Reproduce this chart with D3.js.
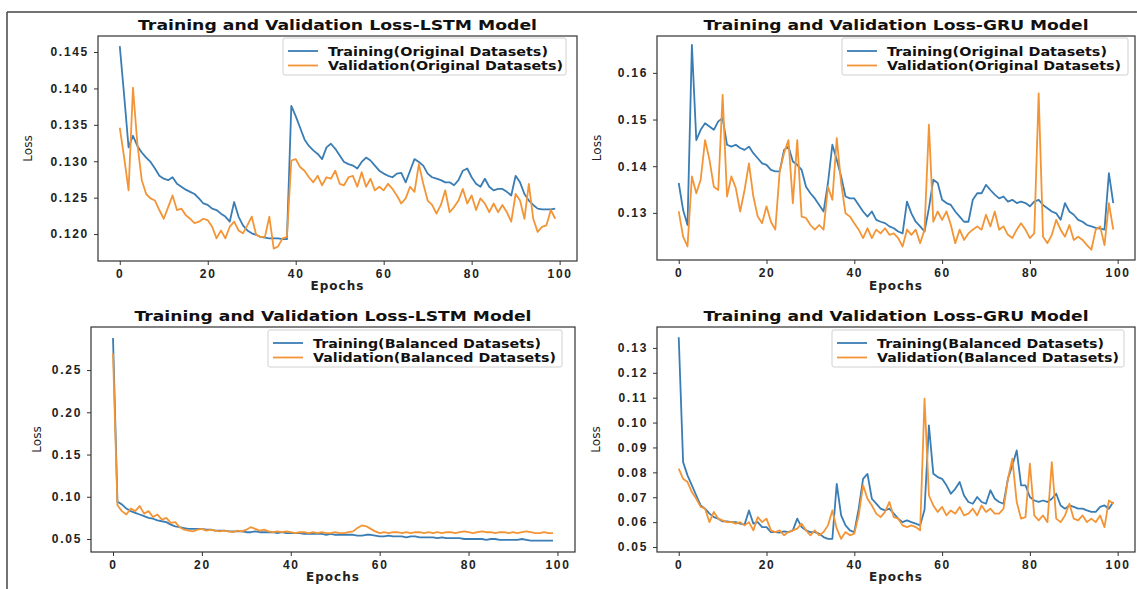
<!DOCTYPE html>
<html>
<head>
<meta charset="utf-8">
<script src="https://cdn.jsdelivr.net/npm/d3@7"></script>
<style>
  html, body { margin: 0; padding: 0; background: #fff; }
  svg { display: block; font-family: "DejaVu Sans", sans-serif; }
  .tick text { font-size: 12px; font-weight: bold; fill: #222; letter-spacing: 1.7px; }
  .tick line { stroke: #333; stroke-width: 1; }
</style>
</head>
<body>
<svg id="chart" width="1137" height="589"></svg>
<script>
// Epoch index shared by every panel
const epochs = d3.range(100);
const epochTicks = [0, 20, 40, 60, 80, 100];

// LSTM, original datasets
const lstmTrainOrig = [0.1458,0.1390,0.1319,0.1335,0.1321,0.1312,0.1305,0.1299,0.1290,0.1280,
  0.1276,0.1274,0.1278,0.1269,0.1265,0.1261,0.1258,0.1255,0.1249,0.1242,
  0.1240,0.1235,0.1233,0.1228,0.1224,0.1217,0.1244,0.1224,0.1212,0.1205,
  0.1201,0.1199,0.1196,0.1195,0.1194,0.1194,0.1194,0.1193,0.1193,0.1376,
  0.1362,0.1346,0.1330,0.1321,0.1315,0.1310,0.1303,0.1319,0.1324,0.1317,
  0.1308,0.1299,0.1296,0.1294,0.1290,0.1299,0.1305,0.1301,0.1294,0.1287,
  0.1283,0.1280,0.1278,0.1283,0.1284,0.1271,0.1287,0.1303,0.1299,0.1294,
  0.1283,0.1278,0.1276,0.1274,0.1271,0.1271,0.1267,0.1274,0.1287,0.1290,
  0.1278,0.1269,0.1265,0.1276,0.1265,0.1260,0.1262,0.1262,0.1258,0.1253,
  0.1280,0.1271,0.1255,0.1246,0.1240,0.1235,0.1234,0.1234,0.1234,0.1235];
const lstmValOrig = [0.1346,0.1305,0.1260,0.1401,0.1324,0.1274,0.1255,0.1249,0.1246,0.1233,
  0.1221,0.1237,0.1253,0.1233,0.1235,0.1226,0.1221,0.1215,0.1217,0.1221,
  0.1219,0.1210,0.1194,0.1205,0.1194,0.1210,0.1217,0.1205,0.1201,0.1212,
  0.1224,0.1199,0.1196,0.1196,0.1224,0.1180,0.1183,0.1194,0.1196,0.1301,
  0.1303,0.1292,0.1287,0.1278,0.1271,0.1280,0.1267,0.1278,0.1276,0.1287,
  0.1269,0.1267,0.1278,0.1280,0.1265,0.1285,0.1265,0.1276,0.1260,0.1265,
  0.1260,0.1269,0.1262,0.1253,0.1242,0.1249,0.1265,0.1258,0.1296,0.1269,
  0.1246,0.1240,0.1228,0.1240,0.1260,0.1230,0.1237,0.1246,0.1262,0.1242,
  0.1253,0.1233,0.1249,0.1242,0.1230,0.1242,0.1230,0.1240,0.1230,0.1217,
  0.1255,0.1246,0.1221,0.1269,0.1221,0.1203,0.1210,0.1212,0.1233,0.1221];

// GRU, original datasets
const gruTrainOrig = [0.1364,0.1306,0.1274,0.1660,0.1456,0.1478,0.1492,0.1485,0.1478,0.1496,
  0.1503,0.1446,0.1442,0.1446,0.1439,0.1435,0.1442,0.1428,0.1417,0.1406,
  0.1403,0.1392,0.1389,0.1389,0.1435,0.1442,0.1410,0.1403,0.1392,0.1356,
  0.1342,0.1331,0.1317,0.1303,0.1364,0.1446,0.1414,0.1378,0.1335,0.1331,
  0.1331,0.1317,0.1303,0.1292,0.1303,0.1285,0.1281,0.1278,0.1271,0.1267,
  0.1260,0.1256,0.1324,0.1299,0.1281,0.1271,0.1260,0.1310,0.1371,0.1364,
  0.1328,0.1321,0.1317,0.1303,0.1292,0.1281,0.1281,0.1328,0.1342,0.1342,
  0.1360,0.1349,0.1339,0.1331,0.1335,0.1324,0.1328,0.1321,0.1324,0.1321,
  0.1314,0.1324,0.1328,0.1317,0.1310,0.1303,0.1299,0.1285,0.1321,0.1303,
  0.1296,0.1285,0.1281,0.1274,0.1271,0.1268,0.1266,0.1264,0.1385,0.1321];
const gruValOrig = [0.1303,0.1249,0.1228,0.1378,0.1342,0.1371,0.1456,0.1414,0.1356,0.1349,
  0.1553,0.1335,0.1378,0.1353,0.1303,0.1349,0.1406,0.1335,0.1292,0.1278,
  0.1314,0.1281,0.1264,0.1389,0.1428,0.1456,0.1321,0.1456,0.1292,0.1289,
  0.1274,0.1264,0.1274,0.1264,0.1356,0.1328,0.1460,0.1364,0.1299,0.1292,
  0.1278,0.1264,0.1246,0.1267,0.1246,0.1264,0.1256,0.1267,0.1253,0.1256,
  0.1246,0.1228,0.1264,0.1253,0.1264,0.1235,0.1264,0.1489,0.1281,0.1303,
  0.1285,0.1303,0.1274,0.1235,0.1264,0.1242,0.1256,0.1264,0.1271,0.1264,
  0.1296,0.1271,0.1303,0.1264,0.1271,0.1253,0.1246,0.1264,0.1278,0.1264,
  0.1246,0.1256,0.1556,0.1249,0.1235,0.1253,0.1285,0.1264,0.1249,0.1274,
  0.1242,0.1249,0.1242,0.1231,0.1221,0.1264,0.1271,0.1231,0.1321,0.1264];

// LSTM, balanced datasets
const lstmTrainBal = [0.288,0.094,0.091,0.086,0.083,0.081,0.079,0.077,0.075,0.074,
  0.072,0.071,0.070,0.067,0.065,0.064,0.063,0.062,0.062,0.062,
  0.062,0.061,0.061,0.060,0.060,0.060,0.059,0.059,0.059,0.059,
  0.058,0.058,0.059,0.058,0.058,0.058,0.058,0.057,0.058,0.057,
  0.057,0.057,0.057,0.056,0.056,0.056,0.056,0.056,0.055,0.056,
  0.055,0.055,0.055,0.055,0.055,0.054,0.054,0.055,0.055,0.054,
  0.053,0.053,0.054,0.053,0.053,0.053,0.052,0.053,0.053,0.052,
  0.052,0.052,0.052,0.051,0.052,0.051,0.051,0.051,0.051,0.050,
  0.050,0.050,0.050,0.050,0.049,0.050,0.050,0.049,0.049,0.049,
  0.049,0.049,0.050,0.049,0.048,0.048,0.048,0.048,0.048,0.048];
const lstmValBal = [0.270,0.090,0.083,0.079,0.086,0.083,0.089,0.080,0.083,0.076,
  0.079,0.073,0.075,0.069,0.070,0.064,0.061,0.060,0.059,0.061,
  0.062,0.060,0.061,0.060,0.059,0.060,0.059,0.058,0.060,0.059,
  0.061,0.064,0.062,0.060,0.061,0.059,0.058,0.059,0.058,0.059,
  0.058,0.057,0.058,0.058,0.057,0.058,0.057,0.058,0.057,0.057,
  0.058,0.057,0.057,0.058,0.059,0.063,0.066,0.065,0.062,0.059,
  0.057,0.058,0.057,0.058,0.058,0.057,0.058,0.057,0.058,0.058,
  0.057,0.058,0.057,0.058,0.057,0.058,0.058,0.057,0.058,0.059,
  0.058,0.057,0.058,0.059,0.058,0.058,0.057,0.058,0.058,0.057,
  0.058,0.057,0.058,0.059,0.058,0.057,0.057,0.058,0.057,0.057];

// GRU, balanced datasets
const gruTrainBal = [0.1343,0.0841,0.0788,0.0748,0.0707,0.0667,0.0654,0.0634,0.0620,0.0614,
  0.0603,0.0603,0.0600,0.0600,0.0594,0.0590,0.0647,0.0594,0.0600,0.0580,
  0.0580,0.0560,0.0560,0.0558,0.0563,0.0560,0.0567,0.0614,0.0580,0.0567,
  0.0560,0.0560,0.0554,0.0540,0.0533,0.0533,0.0754,0.0627,0.0587,0.0567,
  0.0560,0.0654,0.0774,0.0794,0.0694,0.0674,0.0654,0.0647,0.0654,0.0634,
  0.0614,0.0600,0.0607,0.0600,0.0594,0.0587,0.0650,0.0989,0.0794,0.0781,
  0.0774,0.0748,0.0714,0.0734,0.0761,0.0707,0.0681,0.0674,0.0701,0.0681,
  0.0674,0.0728,0.0694,0.0681,0.0674,0.0774,0.0828,0.0888,0.0748,0.0748,
  0.0701,0.0687,0.0681,0.0687,0.0681,0.0694,0.0714,0.0667,0.0654,0.0667,
  0.0661,0.0654,0.0654,0.0647,0.0641,0.0641,0.0661,0.0667,0.0654,0.0681];
const gruValBal = [0.0815,0.0774,0.0761,0.0721,0.0694,0.0661,0.0654,0.0600,0.0641,0.0614,
  0.0607,0.0600,0.0600,0.0594,0.0600,0.0587,0.0600,0.0567,0.0620,0.0600,
  0.0614,0.0567,0.0560,0.0567,0.0547,0.0560,0.0567,0.0574,0.0594,0.0567,
  0.0547,0.0567,0.0547,0.0560,0.0587,0.0647,0.0574,0.0533,0.0560,0.0547,
  0.0554,0.0627,0.0748,0.0694,0.0667,0.0634,0.0620,0.0641,0.0681,0.0620,
  0.0614,0.0587,0.0580,0.0587,0.0580,0.0567,0.1096,0.0707,0.0667,0.0641,
  0.0661,0.0627,0.0647,0.0634,0.0661,0.0627,0.0634,0.0654,0.0627,0.0667,
  0.0641,0.0654,0.0634,0.0634,0.0654,0.0774,0.0855,0.0681,0.0614,0.0620,
  0.0835,0.0627,0.0607,0.0627,0.0600,0.0841,0.0614,0.0600,0.0627,0.0674,
  0.0614,0.0607,0.0627,0.0600,0.0614,0.0600,0.0627,0.0580,0.0687,0.0674];

// Tick labels per panel
const ticksLstmOrig = [0.120, 0.125, 0.130, 0.135, 0.140, 0.145];
const ticksGruOrig = [0.13, 0.14, 0.15, 0.16];
const ticksLstmBal = [0.05, 0.10, 0.15, 0.20, 0.25];
const ticksGruBal = [0.05, 0.06, 0.07, 0.08, 0.09, 0.10, 0.11, 0.12, 0.13];

// Titles and legend entries
const titleLstm = "Training and Validation Loss-LSTM Model";
const titleGru = "Training and Validation Loss-GRU Model";
const legendOrig = ["Training(Original Datasets)", "Validation(Original Datasets)"];
const legendBal = ["Training(Balanced Datasets)", "Validation(Balanced Datasets)"];

const colTrain = "#3a7db4";
const colVal = "#f39536";

const svg = d3.select("#chart");

// outer figure border (top and left edges)
svg.append("line").attr("x1", 7).attr("y1", 12).attr("x2", 1137).attr("y2", 12)
  .attr("stroke", "#444").attr("stroke-width", 1.5);
svg.append("line").attr("x1", 7).attr("y1", 12).attr("x2", 7).attr("y2", 589)
  .attr("stroke", "#444").attr("stroke-width", 1.5);

const panels = [
  { left: 98, right: 577, top: 36, bottom: 261, yDomain: [0.1163, 0.1472], yTicks: ticksLstmOrig, fmt: ".3f",
    title: titleLstm, titleLen: 399, train: lstmTrainOrig, val: lstmValOrig, legend: legendOrig,
    leg: { x: 283, y: 38, w: 283, lens: [220, 235] }, lossX: 28, xLabelY: 290 },
  { left: 657, right: 1135, top: 36, bottom: 260, yDomain: [0.1199, 0.1679], yTicks: ticksGruOrig, fmt: ".2f",
    title: titleGru, titleLen: 385, train: gruTrainOrig, val: gruValOrig, legend: legendOrig,
    leg: { x: 842, y: 38, w: 286, lens: [220, 234] }, lossX: 597, xLabelY: 290 },
  { left: 91, right: 575, top: 327, bottom: 552, yDomain: [0.0346, 0.301], yTicks: ticksLstmBal, fmt: ".2f",
    title: titleLstm, titleLen: 397, train: lstmTrainBal, val: lstmValBal, legend: legendBal,
    leg: { x: 268, y: 330, w: 294, lens: [228, 243] }, lossX: 37, xLabelY: 581 },
  { left: 657, right: 1135, top: 327, bottom: 552, yDomain: [0.048, 0.1384], yTicks: ticksGruBal, fmt: ".2f",
    title: titleGru, titleLen: 385, train: gruTrainBal, val: gruValBal, legend: legendBal,
    leg: { x: 832, y: 330, w: 292, lens: [227, 242] }, lossX: 596, xLabelY: 581 }
];

panels.forEach(drawPanel);

function drawPanel(p) {
  const g = svg.append("g");
  const x = d3.scaleLinear().domain([-4.95, 103.95]).range([p.left, p.right]);
  const y = d3.scaleLinear().domain(p.yDomain).range([p.bottom, p.top]);

  // axes
  const xa = g.append("g").attr("transform", `translate(0,${p.bottom})`)
    .call(d3.axisBottom(x).tickValues(epochTicks).tickFormat(d3.format("d")).tickSize(4).tickPadding(4));
  xa.select(".domain").remove();
  const ya = g.append("g").attr("transform", `translate(${p.left},0)`)
    .call(d3.axisLeft(y).tickValues(p.yTicks).tickFormat(d3.format(p.fmt)).tickSize(4).tickPadding(5));
  ya.select(".domain").remove();

  // clip lines to the plotting area
  const clipId = "clip" + p.left + "_" + p.top;
  g.append("clipPath").attr("id", clipId).append("rect")
    .attr("x", p.left).attr("y", p.top).attr("width", p.right - p.left).attr("height", p.bottom - p.top);

  const line = d3.line().x((d, i) => x(epochs[i])).y(d => y(d));
  const lines = g.append("g").attr("clip-path", `url(#${clipId})`);
  lines.append("path").datum(p.train).attr("d", line)
    .attr("fill", "none").attr("stroke", colTrain).attr("stroke-width", 1.8).attr("stroke-linejoin", "round");
  lines.append("path").datum(p.val).attr("d", line)
    .attr("fill", "none").attr("stroke", colVal).attr("stroke-width", 1.8).attr("stroke-linejoin", "round");

  // frame
  g.append("rect").attr("x", p.left).attr("y", p.top)
    .attr("width", p.right - p.left).attr("height", p.bottom - p.top)
    .attr("fill", "none").attr("stroke", "#333").attr("stroke-width", 1.2);

  // title
  g.append("text").attr("x", (p.left + p.right) / 2).attr("y", p.top - 6)
    .attr("text-anchor", "middle").attr("font-size", 14).attr("font-weight", "bold").attr("fill", "#111")
    .attr("textLength", p.titleLen).attr("lengthAdjust", "spacingAndGlyphs")
    .text(p.title);

  // axis labels
  g.append("text").attr("x", (p.left + p.right) / 2).attr("y", p.xLabelY)
    .attr("text-anchor", "middle").attr("font-size", 12).attr("font-weight", "bold")
    .attr("letter-spacing", "1px").attr("fill", "#222").text("Epochs");
  g.append("text")
    .attr("transform", `translate(${p.lossX},${(p.top + p.bottom) / 2}) rotate(-90)`)
    .attr("text-anchor", "middle").attr("dy", "0.35em").attr("font-size", 12).attr("fill", "#222")
    .text("Loss");

  // legend
  const L = p.leg;
  const lg = g.append("g");
  lg.append("rect").attr("x", L.x).attr("y", L.y).attr("width", L.w).attr("height", 37)
    .attr("rx", 2).attr("fill", "#fff").attr("fill-opacity", 0.85)
    .attr("stroke", "#d0d0d0").attr("stroke-width", 1);
  const cols = [colTrain, colVal];
  p.legend.forEach((lab, i) => {
    const ly = L.y + 13 + i * 14.5;
    lg.append("line").attr("x1", L.x + 5).attr("x2", L.x + 35).attr("y1", ly).attr("y2", ly)
      .attr("stroke", cols[i]).attr("stroke-width", 1.8);
    lg.append("text").attr("x", L.x + 45).attr("y", ly + 4.5)
      .attr("font-size", 12).attr("font-weight", "bold").attr("fill", "#111")
      .attr("textLength", L.lens[i]).attr("lengthAdjust", "spacingAndGlyphs")
      .text(lab);
  });
}
</script>
</body>
</html>
